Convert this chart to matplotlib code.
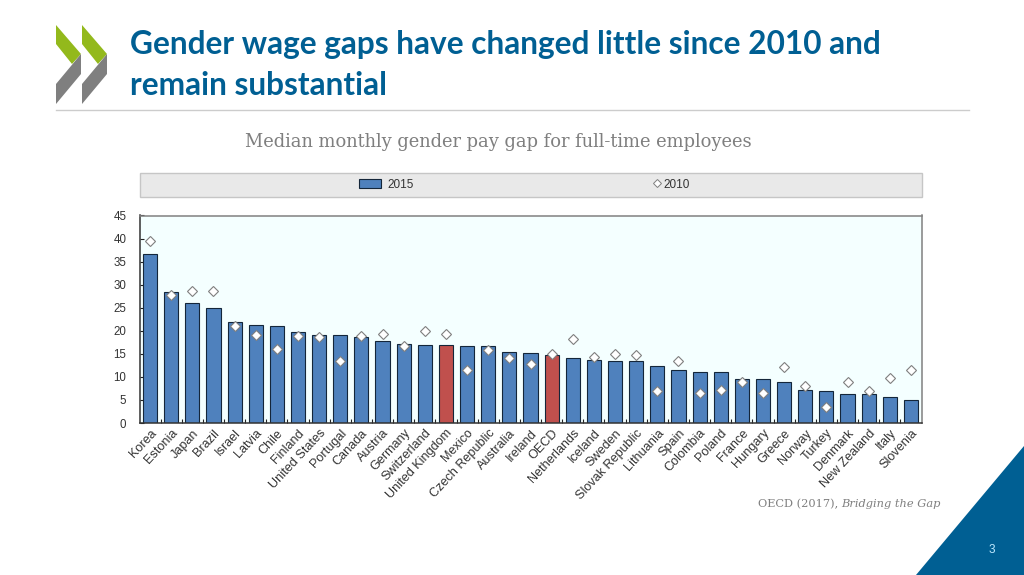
#!/usr/bin/env python3

import matplotlib
matplotlib.use('Agg')
import matplotlib.pyplot as plt
from matplotlib.lines import Line2D
from matplotlib.patches import Patch, Polygon, Rectangle
import numpy as np

countries = ['Korea', 'Estonia', 'Japan', 'Brazil', 'Israel', 'Latvia', 'Chile',
             'Finland', 'United States', 'Portugal', 'Canada', 'Austria',
             'Germany', 'Switzerland', 'United Kingdom', 'Mexico',
             'Czech Republic', 'Australia', 'Ireland', 'OECD', 'Netherlands',
             'Iceland', 'Sweden', 'Slovak Republic', 'Lithuania', 'Spain',
             'Colombia', 'Poland', 'France', 'Hungary', 'Greece', 'Norway',
             'Turkey', 'Denmark', 'New Zealand', 'Italy', 'Slovenia']
gap_2015 = [36.7, 28.4, 26.0, 24.9, 21.9, 21.2, 21.0, 19.7, 19.0, 19.0, 18.6,
            17.8, 17.1, 16.9, 16.9, 16.7, 16.6, 15.3, 15.2, 14.7, 14.2, 13.6,
            13.5, 13.5, 12.4, 11.6, 11.1, 11.1, 9.6, 9.6, 9.0, 7.2, 6.9, 6.3,
            6.2, 5.6, 4.9]
gap_2010 = [39.5, 27.7, 28.6, 28.7, 21.1, 19.0, 16.0, 18.9, 18.7, 13.5, 18.9,
            19.2, 16.7, 20.0, 19.2, 11.5, 15.8, 14.0, 12.7, 15.0, 18.2, 14.3,
            15.0, 14.8, 6.9, 13.4, 6.4, 7.1, 9.0, 6.4, 12.1, 8.0, 3.4, 8.8,
            7.0, 9.8, 11.6]
highlighted = ['United Kingdom', 'OECD']
yticks = [0, 5, 10, 15, 20, 25, 30, 35, 40, 45]

W, H = 1024, 575
BLUE = '#4F81BD'
RED = '#C0504D'
DARK = '#005F93'
SANS = ['Liberation Sans', 'DejaVu Sans']
SERIF = ['DejaVu Serif']

fig = plt.figure(figsize=(W / 100, H / 100), dpi=100, facecolor='white')

# slide furniture, in pixel coordinates
bg = fig.add_axes([0, 0, 1, 1])
bg.set_xlim(0, W)
bg.set_ylim(H, 0)
bg.axis('off')
for dx in (0, 26):
    bg.add_patch(Polygon([(56 + dx, 25), (81 + dx, 54), (72 + dx, 64), (56 + dx, 44)],
                         closed=True, fc='#93B91C', ec='none'))
    bg.add_patch(Polygon([(81 + dx, 54), (81 + dx, 74), (56 + dx, 104), (56 + dx, 84)],
                         closed=True, fc='#7F7F7F', ec='none'))
bg.plot([56, 969], [109.5, 109.5], color='#CCCCCC', lw=1)
bg.add_patch(Polygon([(1024, 446), (1024, 575), (916, 575)], closed=True,
                     fc=DARK, ec='none'))
bg.add_patch(Rectangle((139.5, 172.5), 782, 24, fc='#E9E9E9', ec='#C6C6C6', lw=1))

bg.text(130, 44.5, 'Gender wage gaps have changed little since 2010 and',
        family='Lato', weight='bold', fontsize=22.8, color=DARK, va='center')
bg.text(130, 85.5, 'remain substantial',
        family='Lato', weight='bold', fontsize=22.8, color=DARK, va='center')
bg.text(498.5, 142, 'Median monthly gender pay gap for full-time employees',
        family=SERIF, fontsize=12.85, color='#7F7F7F', ha='center', va='center')
bg.text(758, 504, 'OECD (2017), ', family=SERIF, fontsize=8.2, color='#7F7F7F', va='center')
bg.text(841, 504, 'Bridging the Gap', family=SERIF, style='italic', fontsize=8.2,
        color='#7F7F7F', va='center')
bg.text(992, 550, '3', family=SANS, fontsize=8.5, color='#BFE9FF', ha='center', va='center')

ax = fig.add_axes([139.5 / W, 1 - 423 / H, 782 / W, 207.5 / H], facecolor='#F4FFFF')
x = np.arange(len(countries))
colors = [RED if c in highlighted else BLUE for c in countries]
ax.bar(x, gap_2015, width=0.67, color=colors, edgecolor='#14263A', linewidth=0.8, zorder=2)
ax.plot(x, gap_2010, linestyle='none', marker='D', markersize=5.2,
        markerfacecolor='white', markeredgecolor='#7F7F7F', markeredgewidth=0.8, zorder=3)

ax.set_xlim(-0.5, len(countries) - 0.5)
ax.set_ylim(0, 45)
ax.set_yticks(yticks)
ax.set_xticks(x)
ax.set_xticklabels(countries, rotation=47, ha='right', va='top', rotation_mode='anchor',
                   family=SANS, fontsize=9.1, color='#333333')
ax.set_xticks(x[:-1] + 0.5, minor=True)
ax.tick_params(axis='x', which='major', length=0, pad=3)
ax.tick_params(axis='x', which='minor', direction='in', length=3, width=0.8, color='#222222')
ax.tick_params(axis='y', direction='in', length=3, width=0.8, color='#222222', pad=9.5,
               labelsize=8.3, labelcolor='#333333')
for label in ax.get_yticklabels():
    label.set_family(SANS)
for name, side in ax.spines.items():
    side.set_color('#808080' if name in ('top', 'right') else '#333333')
    side.set_linewidth(1.1)

# legend entries sit far apart in the grey band, hence two legends
leg_a = fig.legend(handles=[Patch(fc=BLUE, ec='#14263A', lw=0.8, label='2015')],
                   loc='center left', bbox_to_anchor=(348 / W, 1 - 184.5 / H), frameon=False,
                   prop={'family': SANS, 'size': 8.5}, handlelength=1.9, handleheight=0.9,
                   handletextpad=0.5, labelcolor='#333333')
leg_b = fig.legend(handles=[Line2D([], [], linestyle='none', marker='D', markersize=4,
                                   mfc='white', mec='#7F7F7F', mew=0.7, label='2010')],
                   loc='center left', bbox_to_anchor=(640 / W, 1 - 184.5 / H), frameon=False,
                   prop={'family': SANS, 'size': 8.5}, handlelength=1.0,
                   handletextpad=0.1, labelcolor='#333333')

fig.savefig('out.png', dpi=100)
